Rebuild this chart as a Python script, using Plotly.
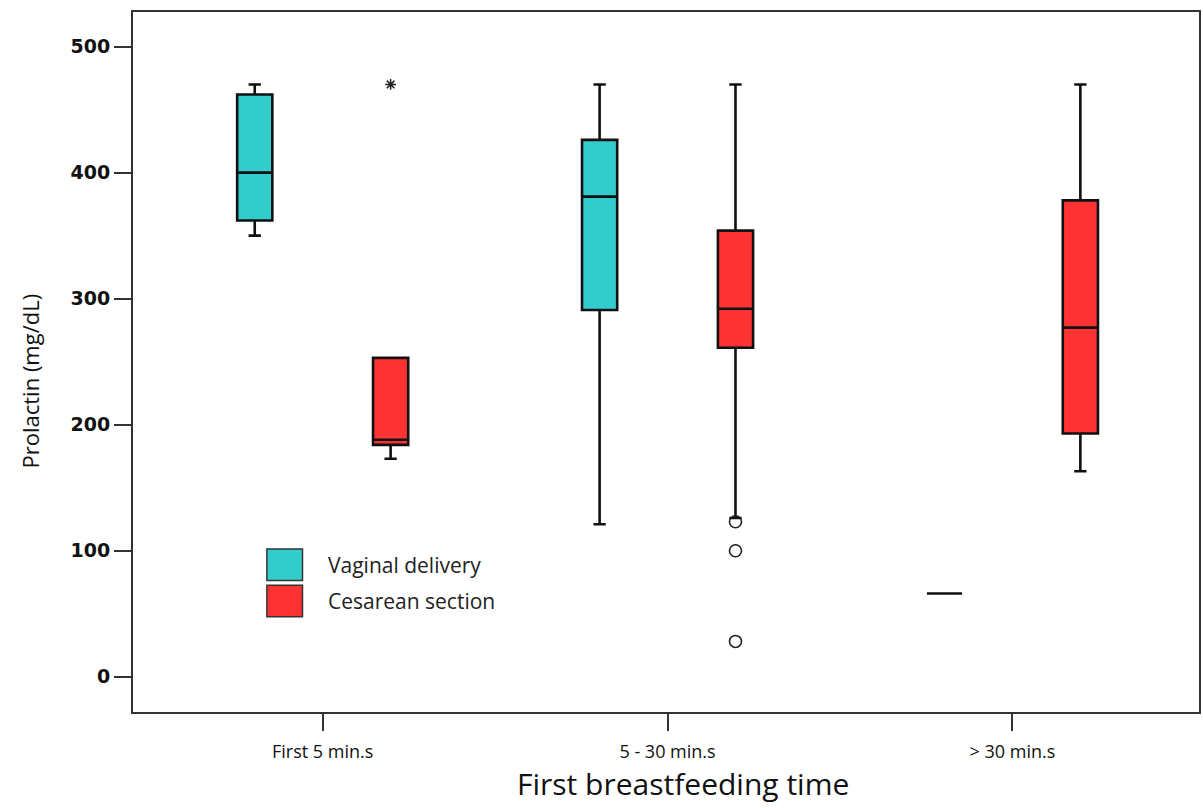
import plotly.graph_objects as go

# ---- data ----
categories = ["First 5 min.s", "5 - 30 min.s", "> 30 min.s"]
series_names = ["Vaginal delivery", "Cesarean section"]
x_title = "First breastfeeding time"
y_title = "Prolactin (mg/dL)"

vag_lower = [350, 121, 66]
vag_q1 = [362, 291, 66]
vag_median = [400, 381, 66]
vag_q3 = [462, 426, 66]
vag_upper = [470, 470, 66]

ces_lower = [173, 126, 163]
ces_q1 = [184, 261, 193]
ces_median = [188, 292, 277]
ces_q3 = [253, 354, 378]
ces_upper = [253, 470, 470]

# outliers (circles) and extremes (asterisks) of the cesarean group
ces_outlier_cat = [1, 1, 1]
ces_outlier_val = [123, 100, 28]
ces_extreme_cat = [0]
ces_extreme_val = [470]

y_ticks = [0, 100, 200, 300, 400, 500]

# ---- style ----
TEAL = "#33CCCC"
RED = "#FF3333"
OFFSET = 0.197
BOX_W = 0.102
LINE = "#111111"
FONT = "Open Sans"

idx = list(range(len(categories)))
vag_x = [i - OFFSET for i in idx]
ces_x = [i + OFFSET for i in idx]

fig = go.Figure()
fig.add_trace(go.Box(
    name=series_names[0], x=vag_x, q1=vag_q1, median=vag_median, q3=vag_q3,
    lowerfence=vag_lower, upperfence=vag_upper, width=BOX_W,
    fillcolor=TEAL, line=dict(color=LINE, width=2.6), whiskerwidth=0.35,
    boxpoints=False, showlegend=False, hoverinfo="skip",
))
fig.add_trace(go.Box(
    name=series_names[1], x=ces_x, q1=ces_q1, median=ces_median, q3=ces_q3,
    lowerfence=ces_lower, upperfence=ces_upper, width=BOX_W,
    fillcolor=RED, line=dict(color=LINE, width=2.6), whiskerwidth=0.35,
    boxpoints=False, showlegend=False, hoverinfo="skip",
))
fig.add_trace(go.Scatter(
    x=[c + OFFSET for c in ces_outlier_cat], y=ces_outlier_val, mode="markers",
    marker=dict(symbol="circle-open", size=12, color="#222222", line=dict(width=1.6)),
    showlegend=False, hoverinfo="skip",
))
fig.add_trace(go.Scatter(
    x=[c + OFFSET for c in ces_extreme_cat], y=ces_extreme_val, mode="markers",
    marker=dict(symbol="asterisk-open", size=9, color="#222222", line=dict(width=1.5, color="#222222")),
    showlegend=False, hoverinfo="skip",
))

# manual legend (large swatches like the original)
legend_items = [(series_names[0], TEAL, 0.233), (series_names[1], RED, 0.181)]
for name, col, ytop in legend_items:
    fig.add_shape(type="rect", xref="paper", yref="paper",
                  x0=0.1256, x1=0.159, y0=ytop - 0.045, y1=ytop,
                  fillcolor=col, line=dict(color="#333333", width=1.5))
    fig.add_annotation(xref="paper", yref="paper", x=0.181, y=ytop - 0.0225,
                       text=name, showarrow=False, xanchor="left", yanchor="middle",
                       font=dict(family=FONT, size=21, color="#222222"))

# axis titles (placed as in the original, slightly off-centre)
fig.add_annotation(xref="paper", yref="paper", x=0.516, y=-0.134,
                   text=x_title, showarrow=False, xanchor="center", yanchor="bottom",
                   font=dict(family=FONT, size=30, color="#111111"))
fig.add_annotation(xref="paper", yref="paper", x=-0.097, y=0.473,
                   text=y_title, showarrow=False, textangle=-90,
                   xanchor="center", yanchor="middle",
                   font=dict(family=FONT, size=22, color="#111111"))

fig.update_layout(
    width=1203, height=808,
    margin=dict(l=133, r=2, t=12, b=96),
    paper_bgcolor="white", plot_bgcolor="white",
    showlegend=False,
)
fig.update_xaxes(
    range=[-0.55, 2.541], tickmode="array", tickvals=idx, ticktext=categories,
    showgrid=False, zeroline=False,
    showline=True, linecolor="#333333", linewidth=2, mirror=True,
    ticks="outside", ticklen=17, tickwidth=1.5, tickcolor="#333333",
    ticklabelstandoff=5,
    tickfont=dict(family=FONT, size=18, color="#111111"),
)
fig.update_yaxes(
    range=[-28, 527.5], tickmode="array", tickvals=y_ticks,
    showgrid=False, zeroline=False,
    showline=True, linecolor="#333333", linewidth=2, mirror=True,
    ticks="outside", ticklen=17, tickwidth=2, tickcolor="#333333",
    tickfont=dict(family="DejaVu Sans", size=19, color="#111111", weight="bold"),
)

fig.write_html("out.html")
